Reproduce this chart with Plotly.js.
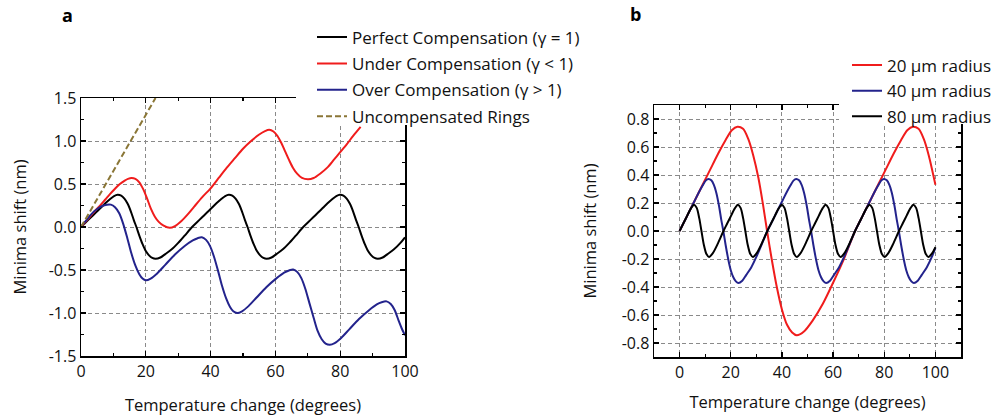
<!DOCTYPE html>
<html>
<head>
<meta charset="utf-8">
<script src="https://cdn.plot.ly/plotly-3.0.1.min.js"></script>
<style>html,body{margin:0;padding:0;background:#fff;}#chart{width:997px;height:418px;}</style>
</head>
<body>
<div id="chart"></div>
<script>
// ---------- Panel a data ----------
const perfectX = [0,1.5,3,4.5,6,7.5,9,10.2,11.3,12.4,13.4,14.4,15.4,16.3,17.1,18,19,20,21,22,23,24.5,26,28,30,32,
  34.3,35.8,37.3,38.8,40.3,41.8,43.3,44.5,45.6,46.7,47.7,48.7,49.7,50.6,51.4,52.3,53.3,54.3,55.3,56.3,57.3,58.8,60.3,62.3,64.3,66.3,
  68.6,70.1,71.6,73.1,74.6,76.1,77.6,78.8,79.9,81,82,83,84,84.9,85.7,86.6,87.6,88.6,89.6,90.6,91.6,93.1,94.6,96.6,98.6,100];
const perfectY = [0,0.055,0.11,0.165,0.22,0.275,0.325,0.36,0.375,0.365,0.33,0.27,0.18,0.08,0,-0.1,-0.2,-0.28,-0.33,-0.36,-0.37,-0.355,-0.315,-0.26,-0.185,-0.1,
  0,0.055,0.11,0.165,0.22,0.275,0.325,0.36,0.375,0.365,0.33,0.27,0.18,0.08,0,-0.1,-0.2,-0.28,-0.33,-0.36,-0.37,-0.355,-0.315,-0.26,-0.185,-0.1,
  0,0.055,0.11,0.165,0.22,0.275,0.325,0.36,0.375,0.365,0.33,0.27,0.18,0.08,0,-0.1,-0.2,-0.28,-0.33,-0.36,-0.37,-0.355,-0.315,-0.26,-0.185,-0.12];

const underX = [0,1.5,3,4.5,6,7.5,9,10.5,12,13.5,14.5,15.6,16.8,18,19.2,20.4,21.6,22.8,24,25.5,27.4,29,31,33,35,37.5,40,42.5,45,47.5,50,52.5,55,56.8,58.1,59.4,60.6,61.8,63,64.2,65.4,66.7,68.2,70.1,71.8,73.8,76,78,80,82,84,86.3];
const underY = [0,0.065,0.13,0.195,0.255,0.32,0.385,0.445,0.5,0.54,0.56,0.57,0.56,0.52,0.44,0.33,0.21,0.12,0.06,0.015,-0.01,0.01,0.07,0.15,0.24,0.35,0.45,0.57,0.69,0.8,0.91,1.0,1.075,1.115,1.13,1.11,1.06,0.98,0.88,0.78,0.69,0.62,0.57,0.555,0.57,0.62,0.69,0.78,0.87,0.96,1.06,1.165];

const overX = [0,1,2,3,4,5,6,7,8,9.2,10.5,11.8,13,14.3,15.5,16.8,18,19,20,21.5,23.5,26,29,32,34.5,36,37.3,38.6,39.8,41,42.3,43.5,44.8,46,47,48.2,49.7,51.7,54.2,57.2,60.2,62.7,64.2,65.5,66.8,68,69.2,70.5,71.8,73,74.3,75.5,76.8,78.3,80.3,82.8,85.8,88.8,91.3,92.8,94.3,95.6,96.8,98,99,100];
const overY = [0,0.05,0.095,0.14,0.18,0.21,0.235,0.25,0.26,0.26,0.23,0.16,0.04,-0.13,-0.3,-0.45,-0.55,-0.6,-0.62,-0.6,-0.54,-0.44,-0.32,-0.22,-0.155,-0.13,-0.12,-0.15,-0.22,-0.34,-0.51,-0.68,-0.83,-0.93,-0.98,-1.0,-0.98,-0.92,-0.82,-0.7,-0.6,-0.53,-0.505,-0.495,-0.525,-0.595,-0.715,-0.885,-1.055,-1.205,-1.305,-1.355,-1.37,-1.35,-1.29,-1.19,-1.07,-0.97,-0.9,-0.875,-0.865,-0.895,-0.965,-1.085,-1.18,-1.26];

const uncompX = [0,23];
const uncompY = [0,1.5];

// ---------- Panel b data ----------
const r20X = [0,3,6,9,12,15,18,20.4,22.6,24.8,26.8,28.8,30.8,32.6,34.2,36,38,40,42,44,45.8,48.5,52,56,60,64,68.6,71.6,74.6,77.6,80.6,83.6,86.6,89,91.2,93.4,95.4,97.4,100];
const r20Y = [0,0.11,0.22,0.33,0.44,0.55,0.65,0.72,0.745,0.73,0.66,0.54,0.38,0.19,0,-0.2,-0.4,-0.56,-0.67,-0.725,-0.745,-0.72,-0.64,-0.52,-0.37,-0.21,0,0.11,0.22,0.33,0.44,0.55,0.65,0.72,0.745,0.73,0.66,0.54,0.33];

const r40X = [0,1.5,3,4.5,6,7.5,9,10.2,11.3,12.4,13.4,14.4,15.4,16.3,17.1,18,19,20,21,22,23,24.5,26,28,30,32,
  34.3,35.8,37.3,38.8,40.3,41.8,43.3,44.5,45.6,46.7,47.7,48.7,49.7,50.6,51.4,52.3,53.3,54.3,55.3,56.3,57.3,58.8,60.3,62.3,64.3,66.3,
  68.6,70.1,71.6,73.1,74.6,76.1,77.6,78.8,79.9,81,82,83,84,84.9,85.7,86.6,87.6,88.6,89.6,90.6,91.6,93.1,94.6,96.6,98.6,100];
const r40Y = [0,0.055,0.11,0.165,0.22,0.275,0.325,0.36,0.372,0.362,0.33,0.27,0.18,0.08,0,-0.1,-0.2,-0.28,-0.33,-0.36,-0.372,-0.355,-0.315,-0.26,-0.185,-0.1,
  0,0.055,0.11,0.165,0.22,0.275,0.325,0.36,0.372,0.362,0.33,0.27,0.18,0.08,0,-0.1,-0.2,-0.28,-0.33,-0.36,-0.372,-0.355,-0.315,-0.26,-0.185,-0.1,
  0,0.055,0.11,0.165,0.22,0.275,0.325,0.36,0.372,0.362,0.33,0.27,0.18,0.08,0,-0.1,-0.2,-0.28,-0.33,-0.36,-0.372,-0.355,-0.315,-0.26,-0.185,-0.12];

const r80X = [0,1.5,3,4.5,5.65,6.7,7.7,8.55,9.5,10.5,11.5,13,15,
  17.15,18.65,20.15,21.65,22.8,23.85,24.85,25.7,26.65,27.65,28.65,30.15,32.15,
  34.3,35.8,37.3,38.8,39.95,41,42,42.85,43.8,44.8,45.8,47.3,49.3,
  51.45,52.95,54.45,55.95,57.1,58.15,59.15,60,60.95,61.95,62.95,64.45,66.45,
  68.6,70.1,71.6,73.1,74.25,75.3,76.3,77.15,78.1,79.1,80.1,81.6,83.6,
  85.75,87.25,88.75,90.25,91.4,92.45,93.45,94.3,95.25,96.25,97.25,98.75,100];
const r80Y = [0,0.055,0.11,0.163,0.187,0.165,0.09,0,-0.1,-0.165,-0.185,-0.158,-0.088,
  0,0.055,0.11,0.163,0.187,0.165,0.09,0,-0.1,-0.165,-0.185,-0.158,-0.088,
  0,0.055,0.11,0.163,0.187,0.165,0.09,0,-0.1,-0.165,-0.185,-0.158,-0.088,
  0,0.055,0.11,0.163,0.187,0.165,0.09,0,-0.1,-0.165,-0.185,-0.158,-0.088,
  0,0.055,0.11,0.163,0.187,0.165,0.09,0,-0.1,-0.165,-0.185,-0.158,-0.088,
  0,0.055,0.11,0.163,0.187,0.165,0.09,0,-0.1,-0.165,-0.185,-0.158,-0.115];

// ---------- Tick labels ----------
const aXTicks = [0,20,40,60,80,100];
const aXText = ['0','20','40','60','80','100'];
const aYTicks = [-1.5,-1,-0.5,0,0.5,1,1.5];
const aYText = ['-1.5','-1.0','-0.5','0.0','0.5','1.0','1.5'];
const bXTicks = [0,20,40,60,80,100];
const bXText = ['0','20','40','60','80','100'];
const bYTicks = [-0.8,-0.6,-0.4,-0.2,0,0.2,0.4,0.6,0.8];
const bYText = ['-0.8','-0.6','-0.4','-0.2','0.0','0.2','0.4','0.6','0.8'];

const FONT = 'Open Sans, Noto Sans, sans-serif';
const RED = '#f01c1c', BLUE = '#23238c', BLACK = '#000000', OLIVE = '#8a7636';
const line = (c) => ({color: c, width: 2, shape: 'spline', smoothing: 0.8});

const traces = [
  {x: perfectX, y: perfectY, name: 'Perfect Compensation (\u03B3 = 1)', mode: 'lines', line: line(BLACK), xaxis: 'x', yaxis: 'y', legend: 'legend', legendgroup: 'a1'},
  {x: underX, y: underY, name: 'Under Compensation (\u03B3 < 1)', mode: 'lines', line: line(RED), xaxis: 'x', yaxis: 'y', legend: 'legend', legendgroup: 'a2'},
  {x: overX, y: overY, name: 'Over Compensation (\u03B3 > 1)', mode: 'lines', line: line(BLUE), xaxis: 'x', yaxis: 'y', legend: 'legend', legendgroup: 'a3'},
  {x: uncompX, y: uncompY, name: 'Uncompensated Rings', mode: 'lines', line: {color: OLIVE, width: 2, dash: '6px,3px'}, xaxis: 'x', yaxis: 'y', legend: 'legend', legendgroup: 'a4'},
  {x: r20X, y: r20Y, name: '20 \u00B5m radius', mode: 'lines', line: line(RED), xaxis: 'x2', yaxis: 'y2', legend: 'legend2', legendgroup: 'b1'},
  {x: r40X, y: r40Y, name: '40 \u00B5m radius', mode: 'lines', line: line(BLUE), xaxis: 'x2', yaxis: 'y2', legend: 'legend2', legendgroup: 'b2'},
  {x: r80X, y: r80Y, name: '80 \u00B5m radius', mode: 'lines', line: line(BLACK), xaxis: 'x2', yaxis: 'y2', legend: 'legend2', legendgroup: 'b3'}
];

const axBase = {
  showline: true, linecolor: '#000', linewidth: 1.5, mirror: 'allticks',
  ticks: 'inside', ticklen: 5, tickwidth: 1.2, tickcolor: '#000',
  showgrid: true, gridcolor: '#8a8a8a', gridwidth: 1, griddash: '4px,3px',
  zeroline: false, tickmode: 'array', automargin: false,
  tickfont: {family: FONT, size: 16, color: '#111'}
};
const TITLEFONT = {family: FONT, size: 16.5, color: '#111'};
const W = 997, H = 418;
const layout = {
  width: W, height: H,
  margin: {l: 0, r: 0, t: 0, b: 0},
  paper_bgcolor: '#fff', plot_bgcolor: '#fff',
  showlegend: true,
  font: {family: FONT, size: 16, color: '#111'},
  xaxis: Object.assign({}, axBase, {
    domain: [81/W, 405/W], range: [0, 100], anchor: 'y',
    tickvals: aXTicks, ticktext: aXText,
    minor: {tickmode: 'linear', tick0: 0, dtick: 10, ticks: 'inside', ticklen: 3, tickcolor: '#000', showgrid: false},
    title: {text: 'Temperature change (degrees)', font: TITLEFONT, standoff: 18}
  }),
  yaxis: Object.assign({}, axBase, {
    domain: [1 - 356/H, 1 - 98/H], range: [-1.5, 1.5], anchor: 'x',
    tickvals: aYTicks, ticktext: aYText,
    minor: {tickmode: 'linear', tick0: 0, dtick: 0.25, ticks: 'inside', ticklen: 3, tickcolor: '#000', showgrid: false},
    title: {text: 'Minima shift (nm)', font: TITLEFONT, standoff: 18}
  }),
  xaxis2: Object.assign({}, axBase, {
    domain: [654/W, 961/W], range: [-10, 110], anchor: 'y2',
    tickvals: bXTicks, ticktext: bXText,
    minor: {tickmode: 'linear', tick0: 0, dtick: 10, ticks: 'inside', ticklen: 3, tickcolor: '#000', showgrid: false},
    title: {text: 'Temperature change (degrees)', font: TITLEFONT, standoff: 14}
  }),
  yaxis2: Object.assign({}, axBase, {
    domain: [1 - 357/H, 1 - 105/H], range: [-0.9, 0.9], anchor: 'x2',
    tickvals: bYTicks, ticktext: bYText,
    minor: {tickmode: 'linear', tick0: 0, dtick: 0.1, ticks: 'inside', ticklen: 3, tickcolor: '#000', showgrid: false},
    title: {text: 'Minima shift (nm)', font: TITLEFONT, standoff: 21}
  }),
  legend: {
    x: 312/W, y: 1 - 19.5/H, xanchor: 'left', yanchor: 'top',
    bgcolor: 'rgba(0,0,0,0)', borderwidth: 0, tracegroupgap: 1.3, traceorder: 'grouped',
    font: {family: FONT, size: 17, color: '#111'}
  },
  legend2: {
    x: 1, y: 1 - 47.5/H, xanchor: 'right', yanchor: 'top',
    bgcolor: 'rgba(0,0,0,0)', borderwidth: 0, tracegroupgap: 0.5, traceorder: 'grouped',
    font: {family: FONT, size: 17, color: '#111'}
  },
  shapes: [
    {type: 'rect', xref: 'paper', yref: 'paper', layer: 'above', line: {width: 0}, fillcolor: '#fff',
     x0: 296/W, x1: 600/W, y0: 1 - 125/H, y1: 1 - 20/H},
    {type: 'rect', xref: 'paper', yref: 'paper', layer: 'above', line: {width: 0}, fillcolor: '#fff',
     x0: 839/W, x1: 996/W, y0: 1 - 124/H, y1: 1 - 45/H}
  ],
  annotations: [
    {text: '<b>a</b>', x: 67/W, y: 1 - 15/H, xref: 'paper', yref: 'paper', xanchor: 'center', yanchor: 'middle', showarrow: false, font: {family: FONT, size: 18, color: '#000'}},
    {text: '<b>b</b>', x: 635/W, y: 1 - 14/H, xref: 'paper', yref: 'paper', xanchor: 'center', yanchor: 'middle', showarrow: false, font: {family: FONT, size: 18, color: '#000'}}
  ]
};

Plotly.newPlot('chart', traces, layout, {displayModeBar: false, staticPlot: true});
</script>
</body>
</html>
